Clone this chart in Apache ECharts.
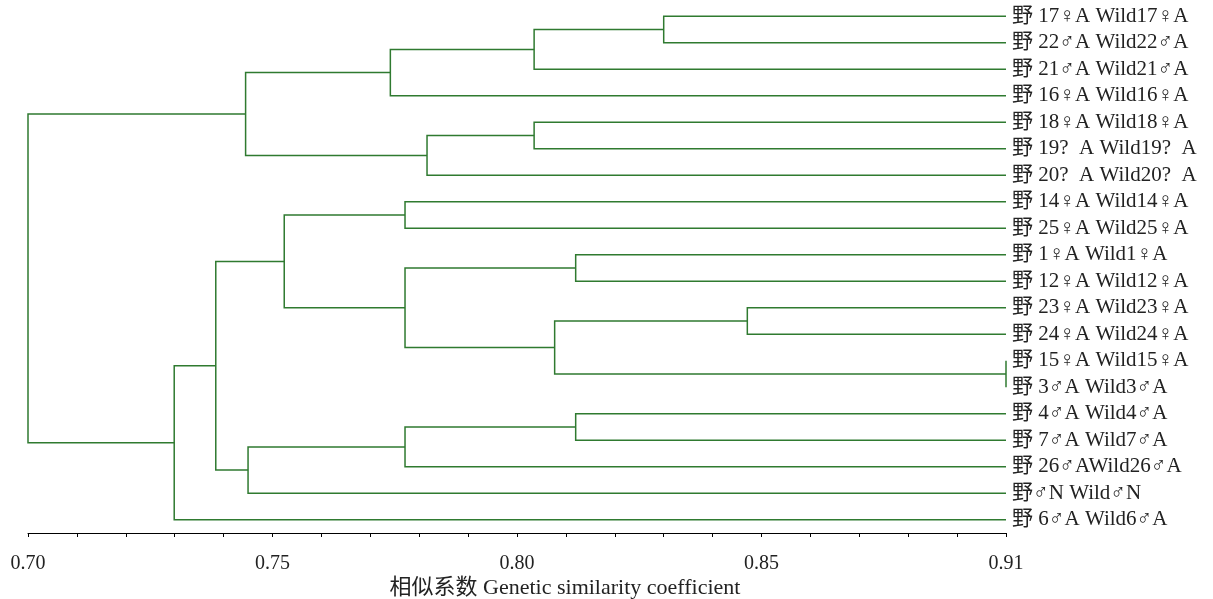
<!DOCTYPE html>
<html>
<head>
<meta charset="utf-8">
<title>Dendrogram</title>
<script src="https://cdn.jsdelivr.net/npm/echarts@6/dist/echarts.min.js"></script>
<style>
  html, body { margin: 0; padding: 0; background: #fff; }
  #chart { width: 1213px; height: 599px; }
</style>
</head>
<body>
<div id="chart"></div>
<script>
// 叶节点（自上而下）
var leafNames = [
  '野 17♀A Wild17♀A', '野 22♂A Wild22♂A', '野 21♂A Wild21♂A', '野 16♀A Wild16♀A',
  '野 18♀A Wild18♀A', '野 19?  A Wild19?  A', '野 20?  A Wild20?  A',
  '野 14♀A Wild14♀A', '野 25♀A Wild25♀A', '野 1♀A Wild1♀A', '野 12♀A Wild12♀A',
  '野 23♀A Wild23♀A', '野 24♀A Wild24♀A', '野 15♀A Wild15♀A', '野 3♂A Wild3♂A',
  '野 4♂A Wild4♂A', '野 7♂A Wild7♂A', '野 26♂AWild26♂A', '野♂N Wild♂N', '野 6♂A Wild6♂A'
]
// 聚类合并：子节点编号（0-19 为叶，20 起为合并节点）
var mergeLeft  = [0, 20, 21, 4, 23, 22, 7, 9, 11, 13, 28, 27, 26, 15, 33, 34, 32, 36, 25]
var mergeRight = [1, 2, 3, 5, 6, 24, 8, 10, 12, 14, 29, 30, 31, 16, 17, 18, 35, 19, 37]
// 合并时的相似系数
var mergeValue = [0.830, 0.8035, 0.7741, 0.8035, 0.7816, 0.7445, 0.7771, 0.812, 0.8471, 0.90,
  0.8077, 0.7771, 0.7524, 0.812, 0.7771, 0.745, 0.7384, 0.7299, 0.70]
// 坐标轴刻度
var majorTicks = [0.70, 0.75, 0.80, 0.85, 0.90]
var majorLabels = ['0.70', '0.75', '0.80', '0.85', '0.91']
var axisMin = 0.70
var axisMax = 0.90
var axisTitle = '相似系数 Genetic similarity coefficient'

var nodeX = []
var nodeY = []
leafNames.forEach(function(n, i) {
  nodeX.push(axisMax)
  nodeY.push(i)
})
mergeValue.forEach(function(v, k) {
  nodeX.push(v)
  nodeY.push((nodeY[mergeLeft[k]] + nodeY[mergeRight[k]]) / 2)
})

var linkData = mergeValue.map(function(v, k) {
  return [v, nodeY[leafNames.length + k], k]
})

var font = '"Liberation Serif", "Times New Roman", "Noto Sans CJK SC", serif'
var lineColor = '#2f7a30'

var chart = echarts.init(document.getElementById('chart'))
chart.setOption({
  animation: false,
  backgroundColor: '#fff',
  graphic: [
    {
      type: 'text',
      x: 565,
      y: 588,
      style: {
        text: axisTitle,
        align: 'center',
        verticalAlign: 'middle',
        font: '22px ' + font,
        fill: '#222'
      }
    }
  ],
  grid: { left: 28, right: 207, top: 3, bottom: 66 },
  xAxis: {
    type: 'value',
    min: axisMin,
    max: axisMax,
    interval: 0.01,
    splitLine: { show: false },
    axisLine: { onZero: false, lineStyle: { color: '#000', width: 1 } },
    axisTick: { length: 4, lineStyle: { color: '#000' } },
    axisLabel: {
      margin: 21,
      showMinLabel: true,
      showMaxLabel: true,
      hideOverlap: false,
      fontFamily: font,
      fontSize: 20,
      color: '#222',
      formatter: function(v) {
        for (var i = 0; i < majorTicks.length; i++) {
          if (Math.abs(v - majorTicks[i]) < 1e-6) return majorLabels[i]
        }
        return ''
      }
    }
  },
  yAxis: [
    { type: 'value', min: -0.5, max: 19.5, inverse: true, show: false },
    {
      type: 'category',
      data: leafNames,
      inverse: true,
      position: 'right',
      axisLine: { show: false },
      axisTick: { show: false },
      splitLine: { show: false },
      axisLabel: { margin: 6, interval: 0, fontFamily: font, fontSize: 21, color: '#222' }
    }
  ],
  series: [
    {
      type: 'custom',
      xAxisIndex: 0,
      yAxisIndex: 0,
      clip: false,
      data: linkData,
      encode: { x: 0, y: 1 },
      renderItem: function(params, api) {
        var k = api.value(2)
        var a = mergeLeft[k]
        var b = mergeRight[k]
        var pa = api.coord([nodeX[a], nodeY[a]])
        var pb = api.coord([nodeX[b], nodeY[b]])
        var px = api.coord([mergeValue[k], 0])[0]
        return {
          type: 'polyline',
          shape: { points: [pa, [px, pa[1]], [px, pb[1]], pb] },
          style: { stroke: lineColor, lineWidth: 1.5, fill: null }
        }
      }
    }
  ]
})
</script>
</body>
</html>
